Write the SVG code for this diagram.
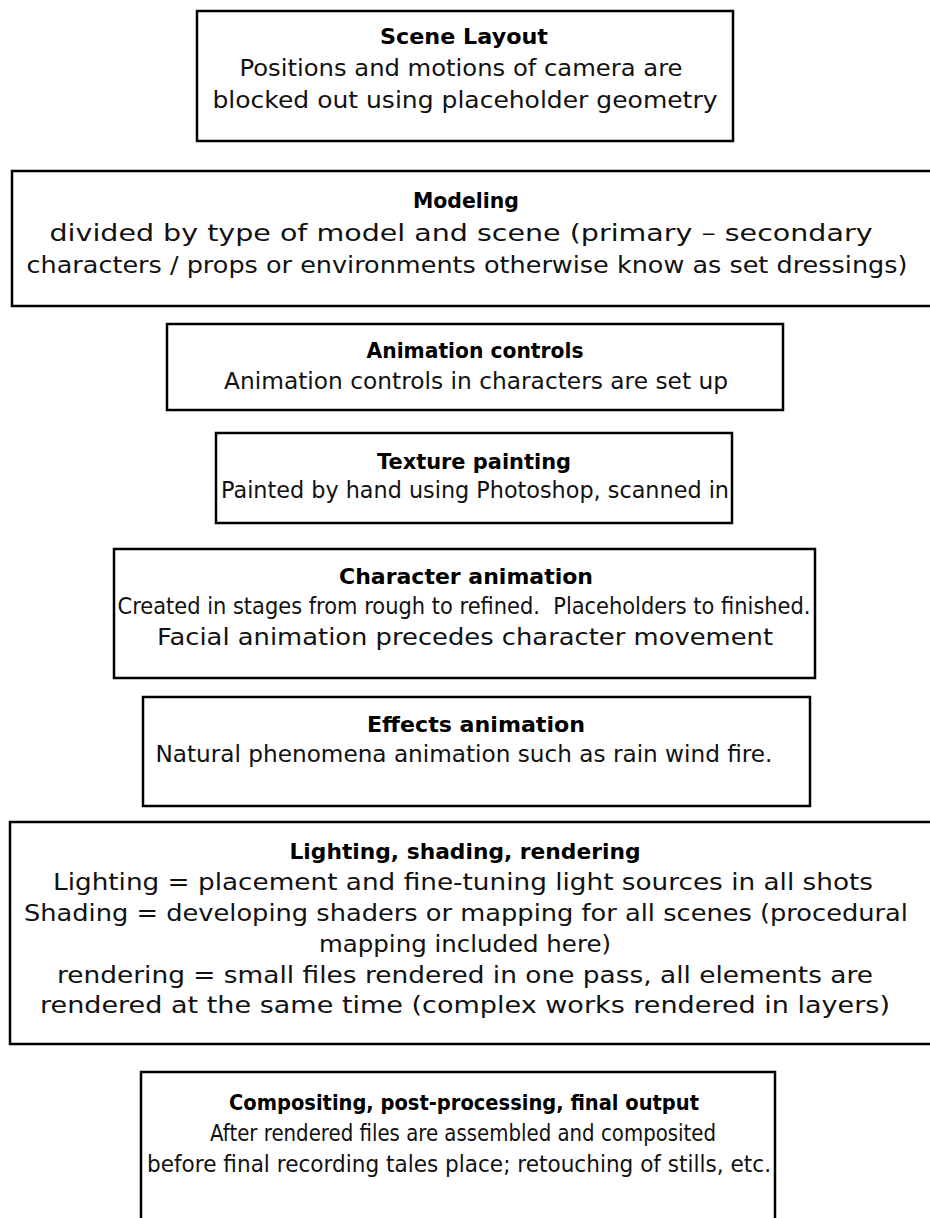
<svg xmlns="http://www.w3.org/2000/svg" width="930" height="1218" viewBox="0 0 930 1218">
<style>
.box{fill:#fff;stroke:#000;stroke-width:2.5}
.t{font-family:"DejaVu Sans","Liberation Sans",sans-serif;font-size:21px;font-weight:bold;fill:#000;text-anchor:middle}
.b{font-family:"DejaVu Sans","Liberation Sans",sans-serif;font-size:23px;fill:#111;text-anchor:middle}
</style>
<rect width="930" height="1218" fill="#fff"/>
<g id="connectors"></g>
<g id="scene-layout">
<rect class="box" x="197" y="11" width="536" height="130"/>
<text class="t" x="464" y="44" textLength="168" lengthAdjust="spacingAndGlyphs">Scene Layout</text>
<text class="b" x="461" y="76" textLength="443" lengthAdjust="spacingAndGlyphs">Positions and motions of camera are</text>
<text class="b" x="465" y="108" textLength="505" lengthAdjust="spacingAndGlyphs">blocked out using placeholder geometry</text>
</g>
<g id="modeling">
<rect class="box" x="12" y="171" width="925" height="135"/>
<text class="t" x="466" y="208" textLength="106" lengthAdjust="spacingAndGlyphs">Modeling</text>
<text class="b" x="461" y="241" textLength="823" lengthAdjust="spacingAndGlyphs">divided by type of model and scene (primary – secondary</text>
<text class="b" x="467" y="273" textLength="881" lengthAdjust="spacingAndGlyphs">characters / props or environments otherwise know as set dressings)</text>
</g>
<g id="animation-controls">
<rect class="box" x="167" y="324" width="616" height="86"/>
<text class="t" x="475" y="358" textLength="217" lengthAdjust="spacingAndGlyphs">Animation controls</text>
<text class="b" x="476" y="389" textLength="504" lengthAdjust="spacingAndGlyphs">Animation controls in characters are set up</text>
</g>
<g id="texture-painting">
<rect class="box" x="216" y="433" width="516" height="90"/>
<text class="t" x="474" y="469" textLength="194" lengthAdjust="spacingAndGlyphs">Texture painting</text>
<text class="b" x="475" y="498" textLength="508" lengthAdjust="spacingAndGlyphs">Painted by hand using Photoshop, scanned in</text>
</g>
<g id="character-animation">
<rect class="box" x="114" y="549" width="701" height="129"/>
<text class="t" x="466" y="584" textLength="254" lengthAdjust="spacingAndGlyphs">Character animation</text>
<text class="b" x="464" y="614" textLength="693" lengthAdjust="spacingAndGlyphs" xml:space="preserve">Created in stages from rough to refined.  Placeholders to finished.</text>
<text class="b" x="465" y="645" textLength="616" lengthAdjust="spacingAndGlyphs">Facial animation precedes character movement</text>
</g>
<g id="effects-animation">
<rect class="box" x="143" y="697" width="667" height="109"/>
<text class="t" x="476" y="732" textLength="218" lengthAdjust="spacingAndGlyphs">Effects animation</text>
<text class="b" x="464" y="762" textLength="617" lengthAdjust="spacingAndGlyphs">Natural phenomena animation such as rain wind fire.</text>
</g>
<g id="lighting">
<rect class="box" x="10" y="822" width="927" height="222"/>
<text class="t" x="465" y="859" textLength="351" lengthAdjust="spacingAndGlyphs">Lighting, shading, rendering</text>
<text class="b" x="463" y="890" textLength="820" lengthAdjust="spacingAndGlyphs">Lighting = placement and fine-tuning light sources in all shots</text>
<text class="b" x="466" y="921" textLength="884" lengthAdjust="spacingAndGlyphs">Shading = developing shaders or mapping for all scenes (procedural</text>
<text class="b" x="465" y="952" textLength="292" lengthAdjust="spacingAndGlyphs">mapping included here)</text>
<text class="b" x="465" y="983" textLength="816" lengthAdjust="spacingAndGlyphs">rendering = small files rendered in one pass, all elements are</text>
<text class="b" x="465" y="1013" textLength="850" lengthAdjust="spacingAndGlyphs">rendered at the same time (complex works rendered in layers)</text>
</g>
<g id="compositing">
<rect class="box" x="141" y="1072" width="634" height="160"/>
<text class="t" x="464" y="1110" textLength="470" lengthAdjust="spacingAndGlyphs">Compositing, post-processing, final output</text>
<text class="b" x="463" y="1141" textLength="506" lengthAdjust="spacingAndGlyphs">After rendered files are assembled and composited</text>
<text class="b" x="459" y="1172" textLength="624" lengthAdjust="spacingAndGlyphs">before final recording tales place; retouching of stills, etc.</text>
</g>
</svg>
